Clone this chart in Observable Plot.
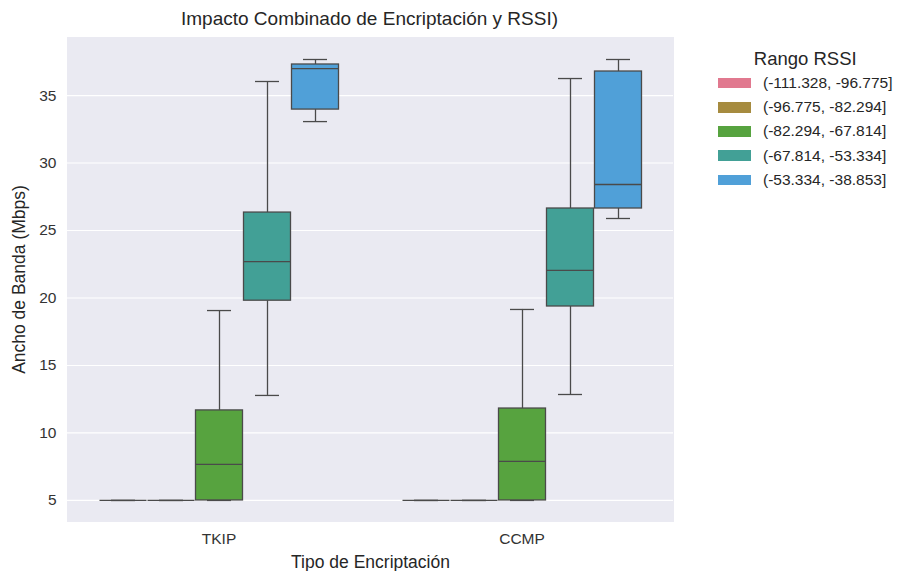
<!DOCTYPE html>
<html>
<head>
<meta charset="utf-8">
<script src="https://cdn.jsdelivr.net/npm/d3@7"></script>
<script src="https://cdn.jsdelivr.net/npm/@observablehq/plot@0.6"></script>
<style>
  body { margin: 0; background: #fff; font-family: "Liberation Sans", Arial, sans-serif; }
  #wrap { position: relative; width: 899px; height: 571px; }
  #title { position: absolute; left: 66px; width: 607px; top: 8px; text-align: center; font-size: 19px; color: #262626; }
  #legend { position: absolute; left: 716px; top: 48px; color: #262626; }
  #legend .lt { font-size: 18.5px; text-align: center; margin-bottom: 1px; padding-left: 2px; }
  #legend .row { display: flex; align-items: center; height: 24.2px; font-size: 15.5px; white-space: nowrap; }
  #legend .sw { width: 33px; height: 10.5px; margin-right: 12px; margin-left: 2px; }
  #chart { position: absolute; left: 0; top: 0; }
</style>
</head>
<body>
<div id="wrap">
  <div id="chart"></div>
  <div id="title">Impacto Combinado de Encriptación y RSSI)</div>
  <div id="legend"></div>
</div>
<script>
const encriptaciones = ["TKIP", "CCMP"];
const rangos = ["(-111.328, -96.775]", "(-96.775, -82.294]", "(-82.294, -67.814]", "(-67.814, -53.334]", "(-53.334, -38.853]"];
const colores = ["#e1798f", "#a68b3f", "#57a33f", "#42a096", "#50a0d8"];
const yTicks = [5, 10, 15, 20, 25, 30, 35];

// stats per encryption (rows) and range (columns)
const bigoteInf = [[5, 5, 5, 12.78, 33.07], [5, 5, 5, 12.85, 25.89]];
const q1 =        [[5, 5, 5, 19.80, 33.96], [5, 5, 5, 19.37, 26.63]];
const mediana =   [[5, 5, 7.67, 22.70, 37.00], [5, 5, 7.89, 22.04, 28.41]];
const q3 =        [[5, 5, 11.67, 26.33, 37.30], [5, 5, 11.81, 26.63, 36.78]];
const bigoteSup = [[5, 5, 19.07, 36.04, 37.67], [5, 5, 19.15, 36.26, 37.67]];

const data = [];
encriptaciones.forEach((e, i) => rangos.forEach((r, j) => data.push({
  enc: e, rango: r,
  lo: bigoteInf[i][j], q1: q1[i][j], med: mediana[i][j], q3: q3[i][j], hi: bigoteSup[i][j]
})));

const line = "#4a4a4a";
const bg = "#eaeaf2";

const plot = Plot.plot({
  width: 700,
  height: 571,
  marginTop: 37,
  marginBottom: 50,
  marginLeft: 66,
  marginRight: 27,
  style: { fontFamily: "'Liberation Sans', Arial, sans-serif", fontSize: "15px", color: "#333", background: "transparent" },
  fx: { domain: encriptaciones, padding: 0 },
  x: { domain: rangos, paddingInner: 0, paddingOuter: 0.625, axis: null },
  y: { domain: [3.44, 39.3] },
  color: { domain: rangos, range: colores },
  marks: [
    Plot.frame({ fill: bg, stroke: bg, strokeWidth: 1 }),
    Plot.gridY(yTicks, { stroke: "#fff", strokeOpacity: 1, strokeWidth: 1.2 }),
    Plot.axisY({ ticks: yTicks, tickSize: 0, tickPadding: 11, fontSize: 15.5, fill: "#333", label: null }),
    Plot.axisY({ ticks: [], tickSize: 0, fontSize: 17.5, fill: "#262626", label: "Ancho de Banda (Mbps)", labelAnchor: "center", labelOffset: 55, labelArrow: "none" }),
    Plot.axisFx({ anchor: "bottom", tickSize: 0, tickPadding: 11, fontSize: 15.5, fill: "#333", label: null }),
    Plot.axisFx({ anchor: "bottom", ticks: [], tickSize: 0, fontSize: 17.5, fill: "#262626", label: "Tipo de Encriptación", labelAnchor: "center", labelOffset: 46, labelArrow: "none" }),
    Plot.ruleX(data, { fx: "enc", x: "rango", y1: "lo", y2: "q1", stroke: line, strokeWidth: 1.3 }),
    Plot.ruleX(data, { fx: "enc", x: "rango", y1: "q3", y2: "hi", stroke: line, strokeWidth: 1.3 }),
    Plot.tickY(data, { fx: "enc", x: "rango", y: "lo", stroke: line, strokeWidth: 1.3, insetLeft: 12, insetRight: 12 }),
    Plot.tickY(data, { fx: "enc", x: "rango", y: "hi", stroke: line, strokeWidth: 1.3, insetLeft: 12, insetRight: 12 }),
    Plot.rectY(data, { fx: "enc", x: "rango", y1: "q1", y2: "q3", fill: "rango", stroke: line, strokeWidth: 1.3, insetLeft: 0.5, insetRight: 0.5 }),
    Plot.tickY(data, { fx: "enc", x: "rango", y: "med", stroke: line, strokeWidth: 1.3, insetLeft: 0.5, insetRight: 0.5 })
  ]
});
document.getElementById("chart").appendChild(plot);

const leg = document.getElementById("legend");
const t = document.createElement("div");
t.className = "lt"; t.textContent = "Rango RSSI";
leg.appendChild(t);
rangos.forEach((r, i) => {
  const row = document.createElement("div");
  row.className = "row";
  const sw = document.createElement("div");
  sw.className = "sw"; sw.style.background = colores[i];
  const lab = document.createElement("span");
  lab.textContent = r;
  row.appendChild(sw); row.appendChild(lab);
  leg.appendChild(row);
});
</script>
</body>
</html>
